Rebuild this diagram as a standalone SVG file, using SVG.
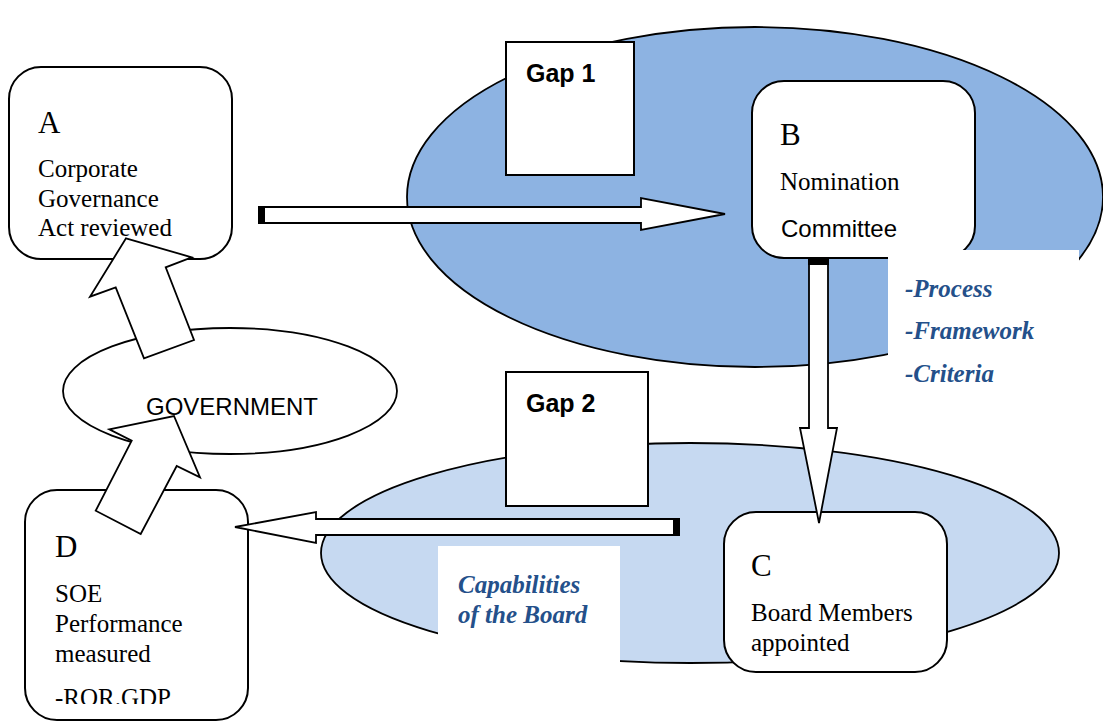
<svg xmlns="http://www.w3.org/2000/svg" width="1103" height="722" viewBox="0 0 1103 722">
<style>
.box{fill:#fff;stroke:#000;stroke-width:2}
.ell{stroke:#000;stroke-width:1.8}
.arr{fill:#fff;stroke:#000;stroke-width:1.8;stroke-linejoin:miter}
.t{font-family:"Liberation Serif","Times New Roman",serif;font-size:25px;fill:#000}
.big{font-family:"Liberation Serif","Times New Roman",serif;font-size:31px;fill:#000}
.s{font-family:"Liberation Sans",Arial,sans-serif;font-size:24px;fill:#000}
.gap{font-family:"Liberation Sans",Arial,sans-serif;font-size:25px;font-weight:bold;fill:#000}
.blue{font-family:"Liberation Serif","Times New Roman",serif;font-size:25px;font-weight:bold;font-style:italic;fill:#24508A}
</style>
<defs>
<clipPath id="clipD"><rect x="0" y="480" width="300" height="224"/></clipPath>
</defs>
<g id="zone-upper">
<ellipse class="ell" cx="755" cy="197" rx="348" ry="170" fill="#8DB3E2"/>
</g>
<g id="zone-lower">
<ellipse class="ell" cx="690" cy="553" rx="369" ry="110" fill="#C6D9F1"/>
</g>
<g id="node-gap1">
<rect class="box" x="506" y="42" width="128" height="133"/>
<text class="gap" x="526" y="82">Gap 1</text>
</g>
<g id="node-gap2">
<rect class="box" x="506" y="372" width="142" height="134"/>
<text class="gap" x="526" y="412">Gap 2</text>
</g>
<g id="node-A">
<rect class="box" x="9" y="67" width="223" height="192" rx="32"/>
<text class="big" x="38" y="133">A</text>
<text class="t" x="38" y="177">Corporate</text>
<text class="t" x="38" y="207">Governance</text>
<text class="t" x="38" y="236">Act reviewed</text>
</g>
<g id="node-B">
<rect class="box" x="752" y="81" width="223" height="177" rx="32"/>
<text class="big" x="780" y="145">B</text>
<text class="t" x="780" y="190">Nomination</text>
<text class="s" x="781" y="237" font-size="25">Committee</text>
</g>
<g id="label-process">
<rect x="888" y="250" width="191" height="148" fill="#fff"/>
<text class="blue" x="905" y="297">-Process</text>
<text class="blue" x="905" y="339">-Framework</text>
<text class="blue" x="905" y="382">-Criteria</text>
</g>
<g id="node-C">
<rect class="box" x="724" y="512" width="223" height="160" rx="32"/>
<text class="big" x="751" y="576">C</text>
<text class="t" x="751" y="621">Board Members</text>
<text class="t" x="751" y="651">appointed</text>
</g>
<g id="label-capabilities">
<rect x="438" y="546" width="182" height="116" fill="#fff"/>
<text class="blue" x="458" y="593">Capabilities</text>
<text class="blue" x="458" y="623">of the Board</text>
</g>
<g id="node-government">
<ellipse class="ell" cx="230" cy="391" rx="167" ry="63" fill="#fff"/>
<text class="s" x="146" y="415">GOVERNMENT</text>
</g>
<g id="node-D">
<rect class="box" x="25" y="490" width="223" height="230" rx="32"/>
<text class="big" x="55" y="557">D</text>
<text class="t" x="55" y="602">SOE</text>
<text class="t" x="55" y="632">Performance</text>
<text class="t" x="55" y="662">measured</text>
<text class="t" x="55" y="706" clip-path="url(#clipD)">-ROR.GDP</text>
</g>
<g id="connectors">
<polygon class="arr" points="260,207 641,207 641,198 725,214 641,230 641,223 260,223"/>
<rect x="258" y="206" width="7" height="18" fill="#000"/>
<polygon class="arr" points="809,260 828,260 828,428 837,428 819,523 800,428 809,428"/>
<rect x="808" y="258" width="21" height="7" fill="#000"/>
<polygon class="arr" points="678,519 316,519 316,512 235,527 316,543 316,535 678,535"/>
<rect x="673" y="518" width="7" height="18" fill="#000"/>
<polygon class="arr" points="95.7,510.7 131.7,440.7 109.3,429.3 174,416 200,477.3 176.7,466 140.7,534"/>
<polygon class="arr" points="126,238.3 191.7,257.3 165.7,267.3 194,340 144,358.3 115.7,287.3 90,296.7"/>
</g>
</svg>
